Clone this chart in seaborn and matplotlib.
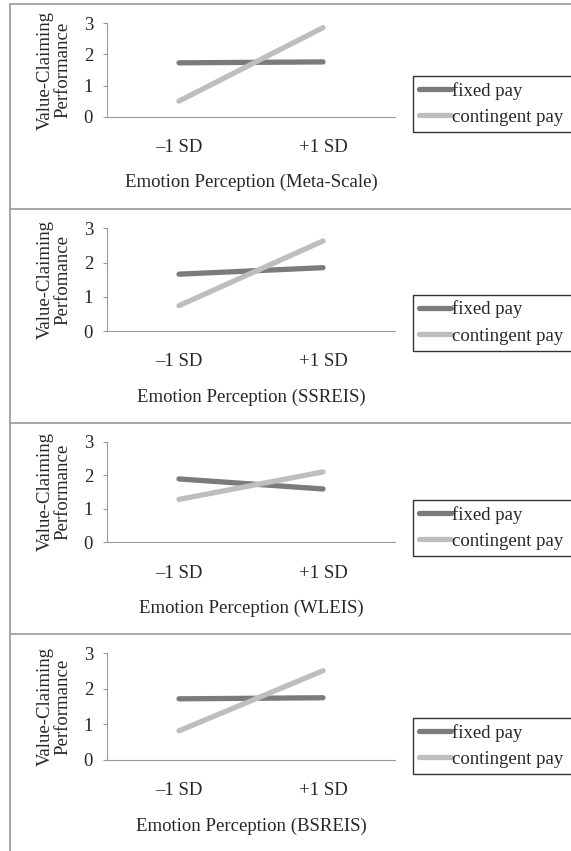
import numpy as np
import pandas as pd
import matplotlib
matplotlib.use("Agg")
import matplotlib.pyplot as plt
from matplotlib.lines import Line2D
import seaborn as sns

# ---- data ----
levels = ["\u20131 SD", "+1 SD"]
groups = ["fixed pay", "contingent pay"]
scales = ["Meta-Scale", "SSREIS", "WLEIS", "BSREIS"]
ylabels = ["Value-Claiming\nPerformance", "Value-Claiming\nPerfomance",
           "Value-Claiming\nPerformance", "Value-Claiming\nPerformance"]
fixed_vals = [[1.73, 1.76], [1.66, 1.85], [1.89, 1.59], [1.72, 1.75]]
contingent_vals = [[0.50, 2.86], [0.74, 2.63], [1.28, 2.10], [0.82, 2.51]]
yticks = [0, 1, 2, 3]

colors = {"fixed pay": "#7b7b7b", "contingent pay": "#bebebe"}

sns.set_style("white")
plt.rcParams["font.family"] = ["Liberation Serif", "DejaVu Serif"]
plt.rcParams["font.size"] = 13.5

W, H = 571, 851
fig = plt.figure(figsize=(W / 100, H / 100), dpi=100)

# axes pixel boxes (top, bottom of the 0..3 range)
ax_px = [(23.3, 116.7), (228.3, 331.0), (441.7, 542.3), (653.3, 760.0)]
leg_top_px = [76, 295, 500, 718]
x0, x1 = 107, 395

for i in range(4):
    top, bot = ax_px[i]
    ax = fig.add_axes([x0 / W, 1 - bot / H, (x1 - x0) / W, (bot - top) / H])
    df = pd.DataFrame({
        "level": levels * 2,
        "value": fixed_vals[i] + contingent_vals[i],
        "group": [groups[0]] * 2 + [groups[1]] * 2,
    })
    sns.lineplot(data=df, x="level", y="value", hue="group", hue_order=groups,
                 palette=colors, linewidth=3.8, legend=False, ax=ax,
                 solid_capstyle="round")
    ax.set_xlim(-0.5, 1.5)
    ax.set_ylim(0, 3)
    ax.set_yticks(yticks)
    ax.set_yticklabels([str(t) for t in yticks])
    for s in ["top", "right"]:
        ax.spines[s].set_visible(False)
    for s in ["left", "bottom"]:
        ax.spines[s].set_color("#9a9a9a")
        ax.spines[s].set_linewidth(0.8)
    ax.tick_params(axis="y", length=3, width=0.8, color="#9a9a9a", pad=7,
                   labelsize=13.5, left=True)
    ax.tick_params(axis="x", length=0, pad=16, labelsize=13.5)
    ax.set_xlabel(f"Emotion Perception ({scales[i]})", fontsize=13.5, labelpad=13)
    ax.set_ylabel(ylabels[i], fontsize=13.5, labelpad=9, linespacing=1.0)
    ax.set_facecolor("none")

    handles = [Line2D([0], [0], color=colors[g], lw=3.8) for g in groups]
    leg = fig.legend(handles, groups, loc="upper left",
                     bbox_to_anchor=(413 / W, 1 - leg_top_px[i] / H,
                                     (585 - 413) / W, 0.0),
                     bbox_transform=fig.transFigure, borderaxespad=0,
                     mode="expand",
                     frameon=True, fancybox=False, edgecolor="black",
                     fontsize=13.5, handlelength=1.75, handletextpad=0.05,
                     labelspacing=0.5, borderpad=0.3)
    leg.get_frame().set_linewidth(1.0)

# panel borders
border_col = "#a0a0a0"
for yb in [4, 209, 423, 634]:
    fig.add_artist(Line2D([10 / W, 1.0], [1 - yb / H, 1 - yb / H],
                          transform=fig.transFigure, color=border_col, lw=1.3))
fig.add_artist(Line2D([10 / W, 10 / W], [1 - 4 / H, 0.0],
                      transform=fig.transFigure, color=border_col, lw=1.3))

fig.savefig("out.png", dpi=100)
